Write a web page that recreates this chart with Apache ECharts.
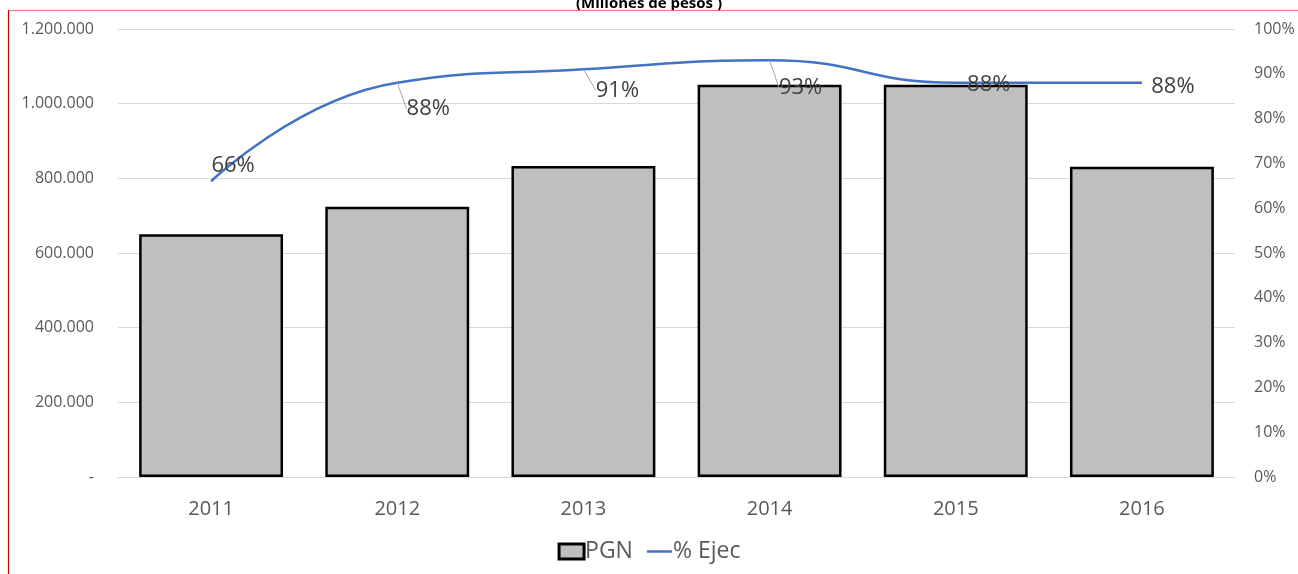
<!DOCTYPE html>
<html><head><meta charset="utf-8">
<script src="https://cdn.jsdelivr.net/npm/echarts@6/dist/echarts.min.js"></script>
<style>html,body{margin:0;padding:0;background:#fff}#c{width:1298px;height:574px}</style>
</head><body><div id="c"></div>
<script>
const years = ['2011','2012','2013','2014','2015','2016'];
const pgn = [650000, 724000, 833000, 1051000, 1051000, 831000];
const ejec = [0.66, 0.88, 0.91, 0.93, 0.88, 0.88];
const ejecLabels = ['66%','88%','91%','93%','88%','88%'];

const labelShift = [[22,0],[31,42],[34,37],[31,43],[33,18],[31,20]];
const showLeader = [false,true,true,true,false,false];
const FONT = '"Open Sans", "Noto Sans", sans-serif';
const chart = echarts.init(document.getElementById('c'));
function fmt(v){ if(v===0) return '-'; return String(v).replace(/\B(?=(\d{3})+(?!\d))/g,'.'); }
chart.setOption({
  animation:false,
  textStyle:{fontFamily:FONT},
  title:{text:'(Millones de pesos )',left:'center',top:-9,textStyle:{fontFamily:FONT,fontSize:15,fontWeight:'bold',color:'#000'}},
  graphic:[
    {type:'line',shape:{x1:8,y1:10.5,x2:1298,y2:10.5},style:{stroke:'#e57373',lineWidth:1.2},z:100},
    {type:'line',shape:{x1:8.5,y1:10,x2:8.5,y2:574},style:{stroke:'#d00000',lineWidth:1.2},z:100}
  ],
  grid:{left:118,right:63,top:29,bottom:97},
  legend:{bottom:6,left:'center',itemGap:14,itemWidth:25,itemHeight:15,
    textStyle:{fontFamily:FONT,fontSize:23,color:'#595959',padding:[0,0,0,-4]},
    data:[{name:'PGN',icon:'rect',itemStyle:{borderWidth:3}},{name:'% Ejec',icon:'path://M0 0H40V4H0Z'}]},
  xAxis:{type:'category',data:years,
    axisLine:{lineStyle:{color:'#d9d9d9',width:1}},axisTick:{show:false},
    axisLabel:{fontFamily:FONT,fontSize:20,color:'#595959',margin:22}},
  yAxis:[
    {type:'value',min:0,max:1200000,interval:200000,
     axisLabel:{fontFamily:FONT,fontSize:16,color:'#595959',margin:24,formatter:fmt},
     splitLine:{lineStyle:{color:'#d9d9d9'}},axisLine:{show:false},axisTick:{show:false}},
    {type:'value',min:0,max:1,interval:0.1,
     axisLabel:{fontFamily:FONT,fontSize:16,color:'#595959',margin:19,formatter:v=>Math.round(v*100)+'%'},
     splitLine:{show:false},axisLine:{show:false},axisTick:{show:false}}
  ],
  series:[
    {name:'PGN',type:'bar',data:pgn,barCategoryGap:'22.7%',
     itemStyle:{color:'#bfbfbf',borderColor:'#000',borderWidth:2.5}},
    {name:'% Ejec',type:'line',yAxisIndex:1,
     data:ejec.map((v,i)=>({value:v,labelLine:{show:showLeader[i]}})),
     smooth:0.5,showSymbol:true,symbol:'circle',symbolSize:0.01,
     lineStyle:{color:'#4472c4',width:2.5},itemStyle:{color:'#4472c4'},
     label:{show:true,position:'top',distance:5,fontFamily:FONT,fontSize:22,color:'#404040',
       formatter:p=>ejecLabels[p.dataIndex]},
     labelLayout:p=>({dx:labelShift[p.dataIndex][0],dy:labelShift[p.dataIndex][1]}),
     labelLine:{show:true,lineStyle:{color:'#a6a6a6',width:1}},
     z:5}
  ]
});
</script></body></html>
